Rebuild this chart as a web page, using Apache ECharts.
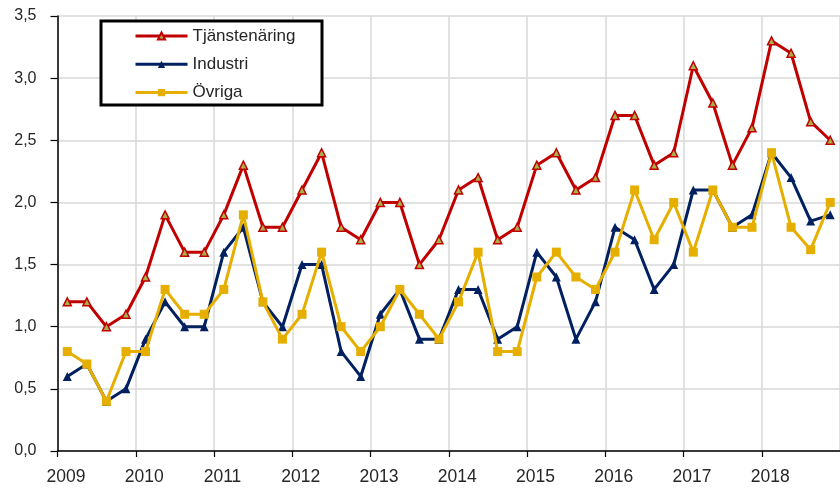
<!DOCTYPE html>
<html>
<head>
<meta charset="utf-8">
<script src="https://cdn.jsdelivr.net/npm/echarts@6/dist/echarts.min.js"></script>
<style>
html,body{margin:0;padding:0;background:#fff;}
#chart{width:840px;height:489px;}
</style>
</head>
<body>
<div id="chart"></div>
<script>
// Quarterly data 2009 K1 – 2018 K4
var years = [2009, 2010, 2011, 2012, 2013, 2014, 2015, 2016, 2017, 2018];
var quarterNames = ['K1', 'K2', 'K3', 'K4'];
var seriesNames = ['Tjänstenäring', 'Industri', 'Övriga'];

var tjanstenaring = [1.2, 1.2, 1.0, 1.1, 1.4, 1.9, 1.6, 1.6, 1.9, 2.3, 1.8, 1.8,
  2.1, 2.4, 1.8, 1.7, 2.0, 2.0, 1.5, 1.7, 2.1, 2.2, 1.7, 1.8,
  2.3, 2.4, 2.1, 2.2, 2.7, 2.7, 2.3, 2.4, 3.1, 2.8, 2.3, 2.6,
  3.3, 3.2, 2.65, 2.5];
var industri = [0.6, 0.7, 0.4, 0.5, 0.9, 1.2, 1.0, 1.0, 1.6, 1.8, 1.2, 1.0,
  1.5, 1.5, 0.8, 0.6, 1.1, 1.3, 0.9, 0.9, 1.3, 1.3, 0.9, 1.0,
  1.6, 1.4, 0.9, 1.2, 1.8, 1.7, 1.3, 1.5, 2.1, 2.1, 1.8, 1.9,
  2.4, 2.2, 1.85, 1.9];
var ovriga = [0.8, 0.7, 0.4, 0.8, 0.8, 1.3, 1.1, 1.1, 1.3, 1.9, 1.2, 0.9,
  1.1, 1.6, 1.0, 0.8, 1.0, 1.3, 1.1, 0.9, 1.2, 1.6, 0.8, 0.8,
  1.4, 1.6, 1.4, 1.3, 1.6, 2.1, 1.7, 2.0, 1.6, 2.1, 1.8, 1.8,
  2.4, 1.8, 1.62, 2.0];
var yTicks = [0, 0.5, 1.0, 1.5, 2.0, 2.5, 3.0, 3.5];

// quarter positions: middle of each quarter on a time-in-years axis
var quarters = [];
years.forEach(function (y) {
  quarterNames.forEach(function (q, qi) {
    quarters.push({ label: y + ' ' + q, x: y + (qi + 0.5) / 4 });
  });
});
function pairs(vals) {
  return vals.map(function (v, i) { return [quarters[i].x, v]; });
}

var FONT = "'Liberation Sans', Arial, sans-serif";

var chart = echarts.init(document.getElementById('chart'), null, { renderer: 'canvas' });
chart.setOption({
  animation: false,
  backgroundColor: '#ffffff',
  grid: { left: 57.5, top: 16, bottom: 38, width: 792.5, containLabel: false },
  xAxis: {
    type: 'value',
    min: years[0],
    max: years[years.length - 1] + 1,
    interval: 1,
    axisLine: { show: true, onZero: false, lineStyle: { color: '#000', width: 1.5 } },
    axisTick: { show: true, length: 6, lineStyle: { color: '#000', width: 1.2 } },
    splitLine: { show: true, lineStyle: { color: '#d9d9d9', width: 1.5 } },
    axisLabel: {
      fontFamily: FONT, fontSize: 17.5, color: '#262626', margin: 17,
      padding: [0, 0, 0, 17],
      showMaxLabel: false,
      formatter: function (v) { return years.indexOf(v) >= 0 ? String(v) : ''; }
    }
  },
  yAxis: {
    type: 'value',
    min: yTicks[0],
    max: yTicks[yTicks.length - 1],
    interval: 0.5,
    axisLine: { show: true, lineStyle: { color: '#000', width: 1.5 } },
    axisTick: { show: true, length: 7, lineStyle: { color: '#000', width: 1.2 } },
    splitLine: { show: true, lineStyle: { color: '#d9d9d9', width: 1.5 } },
    axisLabel: {
      fontFamily: FONT, fontSize: 16, color: '#262626', margin: 21,
      formatter: function (v) { return v.toFixed(1).replace('.', ','); }
    }
  },
  graphic: [{
    type: 'rect', z: 50,
    shape: { x: 101, y: 21, width: 221, height: 84 },
    style: { fill: '#fff', stroke: '#000', lineWidth: 3 }
  }],
  legend: {
    z: 100,
    orient: 'vertical',
    left: 134, top: 26,
    padding: 0,
    itemWidth: 52, itemHeight: 9, itemGap: 8.3,
    lineStyle: { width: 3 },
    textStyle: { fontFamily: FONT, fontSize: 17, color: '#262626', lineHeight: 20 },
    data: seriesNames
  },
  series: [
    {
      name: seriesNames[0], type: 'line', data: pairs(tjanstenaring),
      symbol: 'triangle', symbolSize: 8,
      lineStyle: { color: '#C00000', width: 3 },
      itemStyle: { color: '#A8B04A', borderColor: '#C00000', borderWidth: 1.5 },
      z: 3
    },
    {
      name: seriesNames[1], type: 'line', data: pairs(industri),
      symbol: 'triangle', symbolSize: 9,
      lineStyle: { color: '#002060', width: 3 },
      itemStyle: { color: '#002060' },
      z: 4
    },
    {
      name: seriesNames[2], type: 'line', data: pairs(ovriga),
      symbol: 'rect', symbolSize: 9,
      lineStyle: { color: '#E6AF00', width: 3 },
      itemStyle: { color: '#E6AF00' },
      z: 5
    }
  ]
});
</script>
</body>
</html>
